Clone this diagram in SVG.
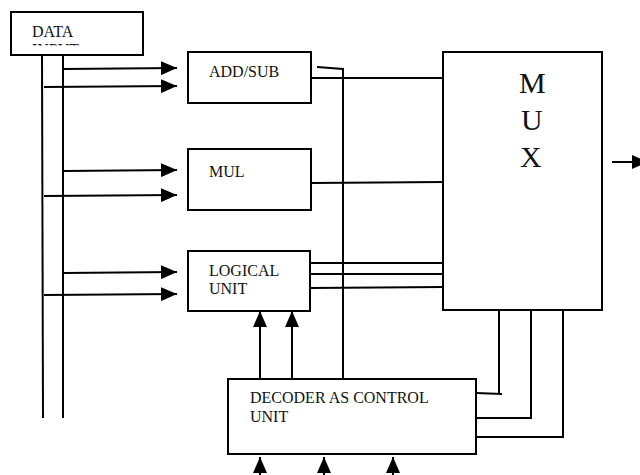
<svg xmlns="http://www.w3.org/2000/svg" width="640" height="475" viewBox="0 0 640 475">
<style>
.box{fill:#fff;stroke:#000;stroke-width:2}
.ln{fill:none;stroke:#000;stroke-width:2}
.lb{font-family:"Liberation Serif","Times New Roman",serif;font-size:16px;fill:#111}
.mux{font-family:"Liberation Serif","Times New Roman",serif;font-size:30px;fill:#111}
</style>
<defs>
<marker id="ah" viewBox="0 0 16 14" refX="16" refY="7" markerWidth="16" markerHeight="14" markerUnits="userSpaceOnUse" orient="auto">
<path d="M0,0 L16,7 L0,14 Z" fill="#000"/>
</marker>
<clipPath id="cl"><rect x="0" y="0" width="640" height="45.5"/></clipPath>
</defs>
<rect width="640" height="475" fill="#fff"/>
<g id="data-input">
<rect class="box" x="11" y="12" width="132" height="43"/>
<text class="lb" x="32" y="37">DATA</text>
<text class="lb" x="32" y="54.5" clip-path="url(#cl)">INPUT</text>
</g>
<g id="add-sub">
<rect class="box" x="188" y="52" width="123" height="51"/>
<text class="lb" x="209" y="77">ADD/SUB</text>
</g>
<g id="mul">
<rect class="box" x="188" y="149" width="123" height="61"/>
<text class="lb" x="209" y="177">MUL</text>
</g>
<g id="logical-unit">
<rect class="box" x="188" y="251" width="122" height="60"/>
<text class="lb" x="209" y="276">LOGICAL</text>
<text class="lb" x="209" y="294">UNIT</text>
</g>
<g id="mux">
<rect class="box" x="443" y="52" width="159" height="258"/>
<text class="mux" x="519" y="93">M</text>
<text class="mux" x="521" y="130">U</text>
<text class="mux" x="520" y="167">X</text>
</g>
<g id="decoder">
<rect class="box" x="228" y="379" width="248" height="75"/>
<text class="lb" x="250" y="403">DECODER AS CONTROL</text>
<text class="lb" x="250" y="422">UNIT</text>
</g>
<g id="connectors">
<line class="ln" x1="42" y1="55" x2="43" y2="418"/>
<line class="ln" x1="63" y1="55" x2="63" y2="418"/>
<line class="ln" x1="63" y1="69" x2="177" y2="68" marker-end="url(#ah)"/>
<line class="ln" x1="44" y1="87" x2="177" y2="86" marker-end="url(#ah)"/>
<line class="ln" x1="63" y1="171" x2="177" y2="170" marker-end="url(#ah)"/>
<line class="ln" x1="44" y1="196" x2="177" y2="195" marker-end="url(#ah)"/>
<line class="ln" x1="63" y1="273" x2="177" y2="272" marker-end="url(#ah)"/>
<line class="ln" x1="44" y1="295" x2="177" y2="294" marker-end="url(#ah)"/>
<line class="ln" x1="311" y1="78" x2="444" y2="78"/>
<polyline class="ln" points="317,67 343,69 343,379"/>
<line class="ln" x1="311" y1="183" x2="444" y2="182"/>
<line class="ln" x1="310" y1="263" x2="444" y2="263"/>
<line class="ln" x1="310" y1="274" x2="444" y2="274"/>
<line class="ln" x1="310" y1="288" x2="444" y2="287"/>
<line class="ln" x1="612" y1="162" x2="648" y2="162" marker-end="url(#ah)"/>
<line class="ln" x1="260" y1="379" x2="260" y2="311" marker-end="url(#ah)"/>
<line class="ln" x1="292" y1="379" x2="292" y2="311" marker-end="url(#ah)"/>
<polyline class="ln" points="499,310 499,394"/>
<line class="ln" x1="476" y1="393" x2="502" y2="394"/>
<polyline class="ln" points="531,310 531,418 476,418"/>
<polyline class="ln" points="563,310 563,437 476,437"/>
<line class="ln" x1="260" y1="475" x2="260" y2="457" marker-end="url(#ah)"/>
<line class="ln" x1="324" y1="475" x2="324" y2="457" marker-end="url(#ah)"/>
<line class="ln" x1="393" y1="475" x2="393" y2="457" marker-end="url(#ah)"/>
</g>
</svg>
